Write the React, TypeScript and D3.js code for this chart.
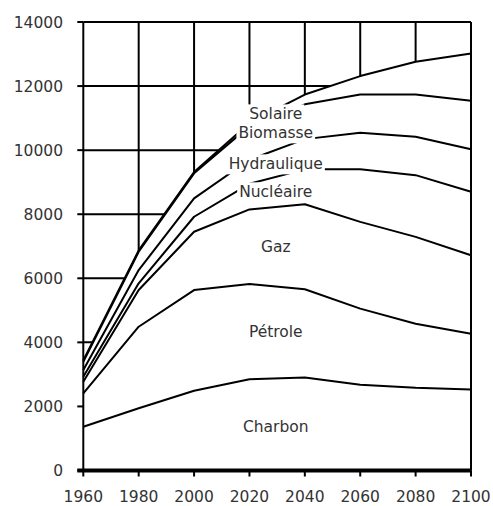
import React, { useEffect, useRef } from "react";
import * as d3 from "d3";

const years = [1960, 1980, 2000, 2020, 2040, 2060, 2080, 2100];
const charbon = [1367, 1941, 2491, 2850, 2900, 2680, 2580, 2530];
const petrole = [1042, 2547, 3142, 2970, 2756, 2372, 2003, 1741];
const gaz = [362, 1145, 1820, 2330, 2656, 2708, 2709, 2448];
const nucleaire = [156, 210, 468, 800, 1088, 1646, 1928, 1981];
const hydraulique = [209, 415, 574, 750, 944, 1135, 1196, 1331];
const biomasse = [260, 571, 781, 1050, 1086, 1199, 1324, 1509];
const solaire = [40, 40, 40, 100, 306, 572, 1018, 1480];

const seriesNames = ["Charbon", "Pétrole", "Gaz", "Nucléaire", "Hydraulique", "Biomasse", "Solaire"];
const seriesValues = [charbon, petrole, gaz, nucleaire, hydraulique, biomasse, solaire];

const labelYear = [2029.5, 2029.5, 2029.5, 2029.5, 2029.5, 2029.5, 2029.5];
const labelValue = [1211, 4157, 6829, 8527, 9400, 10368, 10960];

const yTicks = [0, 2000, 4000, 6000, 8000, 10000, 12000, 14000];
const xTicks = [1960, 1980, 2000, 2020, 2040, 2060, 2080, 2100];

const W = 493;
const H = 506;
const FONT = "'DejaVu Sans', Verdana, sans-serif";
const TEXT = "#333";

export default function App() {
  const ref = useRef<SVGSVGElement | null>(null);

  useEffect(() => {
    const svg = d3.select(ref.current);
    svg.selectAll("*").remove();

    const x = d3.scaleLinear().domain([1960, 2100]).range([83.3, 471]);
    const y = d3.scaleLinear().domain([0, 14000]).range([470.5, 22]);

    const rows = years.map((yr, i) => {
      const r: any = { year: yr };
      seriesNames.forEach((n, k) => (r[n] = seriesValues[k][i]));
      return r;
    });
    const stacked = d3.stack().keys(seriesNames)(rows);
    const top = stacked[stacked.length - 1];

    const g = svg.append("g");

    // grid
    yTicks.slice(1).forEach((v) => {
      g.append("line")
        .attr("x1", x(1960)).attr("x2", x(2100))
        .attr("y1", y(v)).attr("y2", y(v))
        .attr("stroke", "#000").attr("stroke-width", 2);
    });
    xTicks.slice(1).forEach((v) => {
      g.append("line")
        .attr("x1", x(v)).attr("x2", x(v))
        .attr("y1", y(0)).attr("y2", y(14000))
        .attr("stroke", "#000").attr("stroke-width", 2);
    });

    // white cover under top curve
    const area = d3.area<any>()
      .x((d) => x(d.data.year))
      .y0(y(0))
      .y1((d) => y(d[1]));
    g.append("path").attr("d", area(top as any) as string).attr("fill", "#fff");

    // frame
    g.append("line")
      .attr("x1", x(1960)).attr("x2", x(1960))
      .attr("y1", y(0)).attr("y2", y(14000))
      .attr("stroke", "#000").attr("stroke-width", 2);
    g.append("line")
      .attr("x1", x(2100)).attr("x2", x(2100))
      .attr("y1", y(0)).attr("y2", y(14000))
      .attr("stroke", "#000").attr("stroke-width", 2);

    // series lines
    const line = d3.line<any>()
      .x((d) => x(d.data.year))
      .y((d) => y(d[1]));
    stacked.forEach((s) => {
      g.append("path")
        .attr("d", line(s as any) as string)
        .attr("fill", "none")
        .attr("stroke", "#000")
        .attr("stroke-width", 2)
        .attr("stroke-linejoin", "round");
    });

    // bottom axis
    g.append("line")
      .attr("x1", x(1960) - 6).attr("x2", x(2100))
      .attr("y1", y(0)).attr("y2", y(0))
      .attr("stroke", "#000").attr("stroke-width", 4);
    xTicks.forEach((v) => {
      g.append("line")
        .attr("x1", x(v)).attr("x2", x(v))
        .attr("y1", y(0)).attr("y2", y(0) + 6)
        .attr("stroke", "#000").attr("stroke-width", 2);
      g.append("text")
        .attr("x", x(v)).attr("y", y(0) + 31.5)
        .attr("text-anchor", "middle")
        .attr("font-family", FONT).attr("font-size", 15.5)
        .attr("fill", TEXT)
        .text(String(v));
    });
    yTicks.forEach((v) => {
      g.append("line")
        .attr("x1", x(1960) - 6).attr("x2", x(1960))
        .attr("y1", y(v)).attr("y2", y(v))
        .attr("stroke", "#000").attr("stroke-width", 2);
      g.append("text")
        .attr("x", 63).attr("y", y(v) + 5.5)
        .attr("text-anchor", "end")
        .attr("font-family", FONT).attr("font-size", 15.5)
        .attr("fill", TEXT)
        .text(String(v));
    });

    // labels with white boxes
    seriesNames.forEach((n, k) => {
      const lg = g.append("g");
      const rect = lg.append("rect").attr("fill", "#fff");
      const t = lg.append("text")
        .attr("x", x(labelYear[k])).attr("y", y(labelValue[k]))
        .attr("text-anchor", "middle")
        .attr("font-family", FONT).attr("font-size", 15.5)
        .attr("fill", TEXT)
        .text(n);
      const bb = (t.node() as SVGTextElement).getBBox();
      rect
        .attr("x", bb.x - 2).attr("y", bb.y - 1)
        .attr("width", bb.width + 4).attr("height", bb.height + 2);
    });
  }, []);

  return (
    <svg
      ref={ref}
      width={W}
      height={H}
      style={{ position: "absolute", left: 0, top: 0, background: "#fff" }}
    />
  );
}
